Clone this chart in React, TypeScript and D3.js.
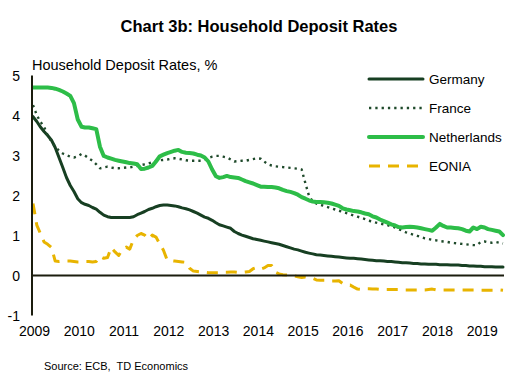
import React from "react";
import * as d3 from "d3";

// Monthly observations, Jan 2009 – Jul 2019
const months: Date[] = d3.timeMonth.range(new Date(2009, 0, 1), new Date(2019, 7, 1));

const germany: number[] = [
  3.97, 3.85, 3.72, 3.60, 3.50, 3.38, 3.20, 2.95, 2.70, 2.45, 2.25, 2.10,
  1.92, 1.82, 1.78, 1.75, 1.70, 1.66, 1.58, 1.51, 1.47, 1.45, 1.45, 1.45,
  1.45, 1.45, 1.45, 1.47, 1.52, 1.56, 1.60, 1.65, 1.68, 1.72, 1.75, 1.76,
  1.76, 1.75, 1.74, 1.72, 1.69, 1.67, 1.64, 1.60, 1.56, 1.51, 1.46, 1.43,
  1.38, 1.32, 1.27, 1.24, 1.21, 1.18, 1.10, 1.05, 1.01, 0.98, 0.95, 0.92,
  0.90, 0.88, 0.86, 0.84, 0.82, 0.80, 0.78, 0.75, 0.72, 0.69, 0.66, 0.64,
  0.61, 0.58, 0.56, 0.54, 0.52, 0.51, 0.50, 0.49, 0.48, 0.47, 0.46, 0.45,
  0.44, 0.43, 0.43, 0.42, 0.41, 0.40, 0.39, 0.38, 0.37, 0.37, 0.36, 0.35,
  0.35, 0.34, 0.33, 0.32, 0.32, 0.31, 0.30, 0.30, 0.29, 0.29, 0.28, 0.28,
  0.28, 0.27, 0.27, 0.27, 0.26, 0.26, 0.26, 0.25, 0.25, 0.24, 0.24, 0.23,
  0.23, 0.22, 0.22, 0.22, 0.21, 0.21, 0.21,
];

const france: number[] = [
  4.26, 4.01, 3.85, 3.72, 3.50, 3.35, 3.22, 3.12, 3.05, 3.01, 2.97, 2.95,
  2.98, 3.04, 3.00, 2.93, 2.87, 2.78, 2.68, 2.70, 2.72, 2.70, 2.68, 2.68,
  2.69, 2.70, 2.70, 2.72, 2.74, 2.76, 2.78, 2.80, 2.83, 2.86, 2.88, 2.89,
  2.90, 2.92, 2.93, 2.92, 2.90, 2.88, 2.87, 2.87, 2.87, 2.87, 2.90, 2.94,
  2.97, 2.99, 2.99, 2.97, 2.95, 2.90, 2.85, 2.86, 2.87, 2.87, 2.89, 2.91,
  2.93, 2.92, 2.85, 2.78, 2.75, 2.73, 2.72, 2.71, 2.70, 2.69, 2.68, 2.67,
  2.65, 2.30, 2.00, 1.85, 1.80, 1.77, 1.74, 1.71, 1.68, 1.65, 1.62, 1.59,
  1.56, 1.53, 1.50, 1.47, 1.44, 1.41, 1.37, 1.35, 1.32, 1.30, 1.28, 1.26,
  1.23, 1.20, 1.16, 1.12, 1.08, 1.05, 1.02, 0.99, 0.96, 0.93, 0.91, 0.89,
  0.88, 0.86, 0.85, 0.84, 0.82, 0.81, 0.80, 0.79, 0.78, 0.77, 0.76, 0.76,
  0.84, 0.85, 0.83, 0.82, 0.84, 0.82, 0.80,
];

const netherlands: number[] = [
  4.70, 4.70, 4.70, 4.70, 4.70, 4.69, 4.67, 4.64, 4.60, 4.55, 4.49, 4.31,
  3.90, 3.72, 3.70, 3.70, 3.68, 3.66, 3.22, 2.99, 2.95, 2.92, 2.89, 2.87,
  2.85, 2.83, 2.81, 2.80, 2.78, 2.66, 2.67, 2.70, 2.74, 2.85, 2.98, 3.02,
  3.06, 3.09, 3.12, 3.14, 3.09, 3.07, 3.06, 3.05, 3.02, 3.00, 2.95, 2.85,
  2.65, 2.48, 2.44, 2.46, 2.49, 2.46, 2.45, 2.44, 2.40, 2.36, 2.33, 2.30,
  2.26, 2.22, 2.22, 2.21, 2.21, 2.20, 2.18, 2.14, 2.11, 2.09, 2.06, 2.02,
  1.96, 1.92, 1.88, 1.85, 1.84, 1.84, 1.83, 1.82, 1.80, 1.77, 1.74, 1.68,
  1.65, 1.63, 1.61, 1.60, 1.58, 1.55, 1.53, 1.48, 1.45, 1.40, 1.36, 1.32,
  1.28, 1.25, 1.21, 1.20, 1.21, 1.22, 1.21, 1.20, 1.18, 1.16, 1.14, 1.12,
  1.20, 1.29, 1.24, 1.20, 1.20, 1.19, 1.18, 1.16, 1.12, 1.10, 1.20, 1.16,
  1.22, 1.20, 1.16, 1.14, 1.12, 1.10, 1.01,
];

const eonia: number[] = [
  1.80, 1.26, 1.06, 0.84, 0.78, 0.70, 0.36, 0.35, 0.36, 0.36, 0.36, 0.35,
  0.34, 0.34, 0.35, 0.35, 0.34, 0.35, 0.48, 0.43, 0.45, 0.70, 0.59, 0.50,
  0.66, 0.71, 0.66, 0.90, 1.00, 1.05, 1.01, 0.91, 1.01, 0.96, 0.79, 0.63,
  0.38, 0.37, 0.36, 0.35, 0.34, 0.33, 0.18, 0.11, 0.10, 0.09, 0.08, 0.07,
  0.07, 0.07, 0.07, 0.08, 0.08, 0.09, 0.09, 0.08, 0.08, 0.09, 0.10, 0.17,
  0.20, 0.16, 0.19, 0.25, 0.25, 0.08, 0.04, 0.02, 0.01, 0.00, -0.01, -0.03,
  -0.05, -0.04, -0.05, -0.07, -0.11, -0.12, -0.12, -0.12, -0.14, -0.14, -0.13, -0.20,
  -0.24, -0.24, -0.29, -0.34, -0.35, -0.33, -0.33, -0.34, -0.34, -0.35, -0.35, -0.35,
  -0.35, -0.35, -0.35, -0.36, -0.36, -0.36, -0.36, -0.36, -0.36, -0.36, -0.35, -0.34,
  -0.36, -0.36, -0.36, -0.36, -0.36, -0.36, -0.36, -0.36, -0.36, -0.36, -0.36, -0.36,
  -0.37, -0.37, -0.37, -0.37, -0.37, -0.36, -0.37,
];

const yTicks: number[] = [-1, 0, 1, 2, 3, 4, 5];
const yearLabels: number[] = [2009, 2010, 2011, 2012, 2013, 2014, 2015, 2016, 2017, 2018, 2019];

const FONT = "'Liberation Sans', Arial, Helvetica, sans-serif";
const AXIS = "#1b1d0e";

type Series = { name: string; values: number[]; color: string; width: number; dash?: string; cap?: string };

const series: Series[] = [
  { name: "Germany", values: germany, color: "#173f22", width: 3 },
  { name: "France", values: france, color: "#1f4a2b", width: 2.4, dash: "2.3,4", cap: "butt" },
  { name: "Netherlands", values: netherlands, color: "#2dbd48", width: 4 },
  { name: "EONIA", values: eonia, color: "#e8b400", width: 3, dash: "11,8", cap: "butt" },
];

export default function App() {
  const W = 519, H = 386;
  const x = d3.scaleTime().domain([months[0], months[months.length - 1]]).range([33, 503]);
  const y = d3.scaleLinear().domain([-1, 5]).range([315.5, 75.5]);
  const line = (vals: number[]) =>
    d3.line<number>().x((_, i) => x(months[i])).y((v) => y(v)).curve(d3.curveLinear)(vals) || "";

  const drawOrder = [series[3], series[0], series[1], series[2]];

  return (
    <svg width={W} height={H} style={{ position: "absolute", left: 0, top: 0, background: "#fff" }} fontFamily={FONT}>
      <text x={259} y={32} textAnchor="middle" fontSize={16.5} fontWeight="bold" fill="#000">
        Chart 3b: Household Deposit Rates
      </text>
      <text x={32} y={70} fontSize={14.5} fill="#000">Household Deposit Rates, %</text>

      {yTicks.map((t) => (
        <text key={t} x={20} y={y(t)} dy="0.36em" textAnchor="end" fontSize={14} fill="#000">
          {t}
        </text>
      ))}
      {yearLabels.map((yr) => (
        <text key={yr} x={x(new Date(yr, 0, 1)) + 1.5} y={336} textAnchor="middle" fontSize={14} fill="#000">
          {yr}
        </text>
      ))}

      {drawOrder.map((s) => (
        <path
          key={s.name}
          d={line(s.values)}
          fill="none"
          stroke={s.color}
          strokeWidth={s.width}
          strokeDasharray={s.dash}
          strokeLinecap={(s.cap as any) || "round"}
          strokeLinejoin="round"
        />
      ))}

      <line x1={32} x2={32} y1={y(5)} y2={y(-1)} stroke={AXIS} strokeWidth={2} />
      <line x1={31} x2={504} y1={y(0)} y2={y(0)} stroke={AXIS} strokeWidth={2} />

      {series.map((s, i) => {
        const ly = 79 + i * 29;
        return (
          <g key={s.name}>
            <line
              x1={369}
              x2={423}
              y1={ly}
              y2={ly}
              stroke={s.color}
              strokeWidth={s.width}
              strokeDasharray={s.dash}
              strokeLinecap={(s.cap as any) || "round"}
            />
            <text x={429} y={ly} dy="0.36em" fontSize={13.5} fill="#000">
              {s.name}
            </text>
          </g>
        );
      })}

      <text x={44} y={370} fontSize={11} fill="#000" style={{ whiteSpace: "pre" }}>Source: ECB,  TD Economics</text>
    </svg>
  );
}
